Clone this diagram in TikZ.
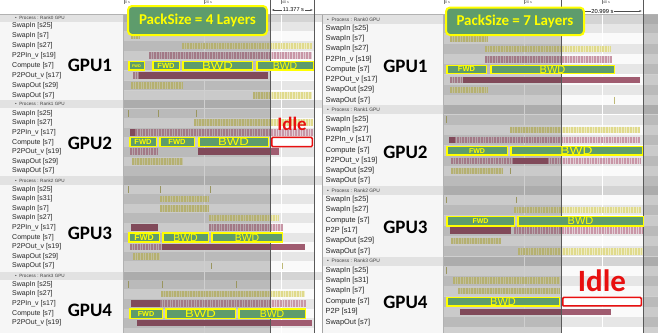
\documentclass[tikz,border=0pt]{standalone}
\usepackage{graphicx}
\usepackage{fontspec}
\setmainfont{Liberation Sans}
\newfontfamily\calibfont{Carlito}
\usepackage{tikz}
\usetikzlibrary{positioning,arrows.meta}
\definecolor{phasegreen}{RGB}{94,156,108}
\definecolor{hiyellow}{RGB}{255,255,0}
\definecolor{idlered}{RGB}{232,16,16}
\definecolor{rowlight}{RGB}{250,250,250}
\definecolor{rowdark}{RGB}{230,230,230}
\definecolor{hdrgray}{RGB}{226,226,226}
\definecolor{hdrtrack}{RGB}{212,212,212}
\definecolor{lblbg}{RGB}{246,246,246}
\definecolor{swapfill}{RGB}{238,236,196}
\definecolor{swapline}{RGB}{224,218,140}
\definecolor{pinkfill}{RGB}{226,206,214}
\definecolor{pinkline}{RGB}{200,150,166}
\definecolor{p2pred}{RGB}{160,92,112}
\newcommand\fsz[1]{\fontsize{#1}{#1}\selectfont}
\tikzset{
  rowlbl/.style={anchor=west, inner sep=0pt, font=\fsz{7}, text=black!85},
  proclbl/.style={anchor=west, inner sep=0pt, font=\fsz{4.6}, text=black!75},
  gpulbl/.style={inner sep=0pt, font=\calibfont\bfseries\fsz{19}},
  phasebox/.style={draw=hiyellow, line width=1.5pt, fill=phasegreen, text=hiyellow, inner sep=0pt},
  idlebox/.style={draw=idlered, line width=1.5pt, fill=white, rounded corners=1pt, inner sep=0pt},
  idlelbl/.style={inner sep=0pt, text=idlered},
  packbox/.style={draw=hiyellow, line width=2pt, fill=phasegreen, rounded corners=4pt,
                  text=hiyellow, font=\calibfont\bfseries\fsz{15}, inner sep=0pt},
  cursor/.style={draw=black!65, line width=0.8pt},
  ticklbl/.style={anchor=west, inner sep=0pt, font=\fsz{3.6}, text=black!70},
  measure/.style={{Latex[length=2.5pt]}-{Latex[length=2.5pt]}, black!70, line width=0.4pt},
  shade/.style={fill=black, opacity=0.19}
}
% trace bars: x1, x2, row y
\newcommand\swapbar[3]{%
  \fill[swapfill] (#1,#3-3.3) rectangle (#2,#3+3.3);
  \pgfmathtruncatemacro\nst{(#2-#1)/1.6}
  \foreach \k in {0,...,\nst} \draw[swapline, line width=0.6pt] ({#1+1.6*\k},#3-3.3) -- ++(0,6.6);}
\newcommand\pinkbar[3]{%
  \fill[pinkfill] (#1,#3-3.3) rectangle (#2,#3+3.3);
  \pgfmathtruncatemacro\nst{(#2-#1)/1.6}
  \foreach \k in {0,...,\nst} \draw[pinkline, line width=0.6pt] ({#1+1.6*\k},#3-3.3) -- ++(0,6.6);}
\newcommand\redbar[3]{\fill[p2pred] (#1,#3-3.3) rectangle (#2,#3+3.3);}
\newcommand\tickbar[2]{\draw[swapline!85!black, line width=0.8pt] (#1,#2-3.3) -- ++(0,6.6);}
% phase box: name, x1, x2, y, height, text
\newcommand\phase[6]{\node[phasebox, minimum width={(#3-#2-1.5)*1pt},
  minimum height={(#5-1.5)*1pt}] (#1) at ({(#2+#3)/2},#4) {#6};}

\begin{document}
\begin{tikzpicture}[x=1pt,y=-1pt]
  \useasboundingbox (0,0) rectangle (658,333);
  \clip (0,0) rectangle (658,333);
  \fill[white] (0,0) rectangle (658,333);
  \fill[lblbg] (0,14) rectangle (123,333);
  \fill[lblbg] (322,14) rectangle (443,333);

  % left panel rows
  \foreach \y/\t [count=\n] in {26/SwapIn [s25], 36/SwapIn [s7], 46/SwapIn [s27],
      55.5/P2PIn\_v [s19], 65.5/Compute [s7], 75.5/P2POut\_v [s17], 85.3/SwapOut [s29],
      95.5/SwapOut [s7], 113.3/SwapIn [s25], 122.7/SwapIn [s27], 132.3/P2PIn\_v [s17],
      142.2/Compute [s7], 151.7/P2POut\_v [s19], 161.3/SwapOut [s29], 171/SwapOut [s7],
      189.3/SwapIn [s25], 199/SwapIn [s31], 208.5/SwapIn [s7], 218/SwapIn [s27],
      227.7/P2PIn\_v [s17], 237.3/Compute [s7], 247/P2POut\_v [s19], 256.5/SwapOut [s29],
      266/SwapOut [s7], 284.5/SwapIn [s25], 294/SwapIn [s27], 303.7/P2PIn\_v [s17],
      313.3/Compute [s7], 323/P2POut\_v [s19]} {
    \ifodd\n\relax \fill[rowdark] (123,\y-4.8) rectangle (314,\y+4.8);
    \else \fill[rowlight] (123,\y-4.8) rectangle (314,\y+4.8); \fi
    \node[rowlbl] (lblL\n) at (12,\y) {\t};
  }
  \fill[rowlight] (123,327.9) rectangle (314,333);
  \foreach \y/\r in {17.7/0, 104/1, 180.6/2, 275.7/3} {
    \fill[hdrgray] (0,\y-4.2) rectangle (322,\y+4.2);
    \fill[hdrtrack] (123,\y-4.2) rectangle (314,\y+4.2);
    \node[proclbl] (procL\r) at (15,\y) {\textbullet\ \ Process : Rank\r\ GPU};
  }

  % right panel rows
  \foreach \y/\t [count=\n] in {28.5/SwapIn [s25], 38.5/SwapIn [s7], 49/SwapIn [s27],
      59.3/P2PIn\_v [s19], 69.3/Compute [s7], 80/P2POut\_v [s17], 90/SwapOut [s29],
      100.2/SwapOut [s7], 119.7/SwapIn [s25], 130/SwapIn [s27], 140/P2PIn\_v [s17],
      150.7/Compute [s7], 161/P2POut\_v [s19], 171/SwapOut [s29], 180.7/SwapOut [s7],
      200/SwapIn [s25], 210/SwapIn [s27], 220.7/Compute [s7], 230.7/P2P [s17],
      241/SwapOut [s29], 251.3/SwapOut [s7], 270.5/SwapIn [s25], 280.7/SwapIn [s31],
      291/SwapIn [s7], 301.7/Compute [s7], 312/P2P [s19], 322.3/SwapOut [s7]} {
    \ifodd\n\relax \fill[rowdark] (443,\y-5.1) rectangle (658,\y+5.1);
    \else \fill[rowlight] (443,\y-5.1) rectangle (658,\y+5.1); \fi
    \node[rowlbl, font=\fsz{7.4}] (lblR\n) at (325.5,\y) {\t};
  }
  \foreach \y/\r in {19.3/0, 109.8/1, 190.5/2, 261/3} {
    \fill[hdrgray] (322,\y-4.5) rectangle (658,\y+4.5);
    \fill[hdrtrack] (443,\y-4.5) rectangle (658,\y+4.5);
    \node[proclbl, font=\fsz{4.9}] (procR\r) at (327,\y) {\textbullet\ \ Process : Rank\r\ GPU};
  }

  % grid lines
  \foreach \x in {204,281,524,602} \draw[white, line width=0.6pt] (\x,14) -- (\x,333);

  % GPU1..4, left
  \swapbar{131}{140}{36} \swapbar{182}{312}{46} \pinkbar{149}{312}{55.5}
  \pinkbar{133}{139}{75.5} \redbar{139}{268}{75.5} \swapbar{131}{183}{85.3} \swapbar{253}{312}{95.5}
  \tickbar{128}{113.3} \tickbar{158}{113.3} \tickbar{196}{113.3} \swapbar{194}{313}{122.7}
  \pinkbar{130}{313}{132.3} \redbar{130}{135}{132.3} \pinkbar{130}{158}{151.7}
  \redbar{198}{279}{151.7} \swapbar{132}{183}{161.3}
  \tickbar{128}{189.3} \tickbar{160}{189.3} \tickbar{210}{189.3} \swapbar{160}{209}{199}
  \swapbar{160}{209}{208.5} \swapbar{209}{279}{218} \redbar{131}{158}{227.7} \pinkbar{209}{283}{227.7}
  \pinkbar{130}{162}{247} \redbar{162}{305}{247} \swapbar{133}{160}{256.5}
  \tickbar{211}{266} \tickbar{282}{266}
  \tickbar{128}{284.5} \tickbar{162}{284.5} \tickbar{236}{284.5} \swapbar{161}{305}{294}
  \redbar{131}{160}{303.7} \pinkbar{160}{306}{303.7} \redbar{137}{312}{323}

  % GPU1..4, right
  \swapbar{450}{487}{38.5} \swapbar{485}{611}{49} \pinkbar{485}{612}{59.3}
  \pinkbar{450}{463}{80} \redbar{463}{640}{80} \swapbar{450}{487}{90} \tickbar{614}{100.2}
  \tickbar{446}{119.7} \swapbar{510}{640}{130} \pinkbar{449}{640}{140} \redbar{449}{455}{140}
  \pinkbar{451}{640}{161} \redbar{513}{548}{161} \swapbar{451}{503}{171} \tickbar{510}{171}
  \tickbar{446}{200} \tickbar{516}{200} \swapbar{514}{641}{210}
  \redbar{450}{511}{230.7} \pinkbar{514}{643}{230.7} \swapbar{451}{501}{241} \swapbar{518}{644}{251.3}
  \tickbar{446}{270.5} \swapbar{453}{560}{280.7} \swapbar{458}{560}{291} \redbar{460}{611}{312}

  % selection shading and cursors
  \fill[shade] (123,14) rectangle (270,333);
  \fill[shade] (443,14) rectangle (561,333);
  \fill[shade] (643,14) rectangle (658,333);
  \draw[black!30] (123,14) -- (123,333) (443,14) -- (443,333);
  \draw[black!35] (322,0) -- (322,333);

  % time ruler
  \fill[white] (0,0) rectangle (658,14);
  \draw[black!30] (0,14) -- (658,14);
  \foreach \x/\s [count=\n] in {124/0 s, 204/20 s, 281/40 s, 444/0 s, 524/20 s, 602/40 s} {
    \draw[black!50] (\x,0) -- (\x,4);
    \node[ticklbl] (tick\n) at (\x+1,2) {\s};
  }
  \foreach \x in {270,314.3,561,643} \draw[cursor] (\x,0) -- (\x,333);
  \coordinate (mL1) at (271.5,10); \coordinate (mL2) at (313,10);
  \draw[measure] (mL1) -- (mL2);
  \node[fill=white, inner sep=0.6pt, font=\fsz{5.6}] (measL) at (293.5,10) {11.377 s};
  \coordinate (mR1) at (562,11); \coordinate (mR2) at (642,11);
  \draw[measure] (mR1) -- (mR2);
  \node[fill=white, inner sep=0.6pt, font=\fsz{5.8}] (measR) at (602.5,11) {20.999 s};

  % phase boxes, left
  \phase{fL1a}{128}{145}{65.7}{10}{\bfseries\fsz{3.8}FWD}
  \phase{fL1b}{152}{180}{65.7}{10}{\bfseries\fsz{7.5}FWD}
  \phase{bL1a}{182}{253}{65.7}{10}{\fsz{10.5}\scalebox{1.25}[1]{BWD}}
  \phase{bL1b}{256}{314}{65.7}{10}{\fsz{10.5}BWD}
  \phase{fL2a}{129}{157}{142}{10.6}{\bfseries\fsz{7.5}FWD}
  \phase{fL2b}{159}{195}{142}{10.6}{\bfseries\fsz{7.5}FWD}
  \phase{bL2a}{198}{269}{142}{10.6}{\fsz{10.5}\scalebox{1.25}[1]{BWD}}
  \node[idlebox, minimum width=40.5pt, minimum height=9.1pt] (idleL) at (292,142) {};
  \node[idlelbl, font=\calibfont\bfseries\fsz{19}, above=5.8pt of idleL] (idleLtxt) {Idle};
  \phase{fL3a}{128}{160}{237.5}{10.4}{\bfseries\fsz{8.5}FWD}
  \phase{bL3a}{162}{209}{237.5}{10.4}{\fsz{10.5}BWD}
  \phase{bL3b}{211}{283}{237.5}{10.4}{\fsz{10.5}BWD}
  \phase{fL4a}{129}{163}{313.7}{10.7}{\bfseries\fsz{7.2}FWD}
  \phase{bL4a}{165}{236}{313.7}{10.7}{\fsz{10.5}\scalebox{1.25}[1]{BWD}}
  \phase{bL4b}{238}{306}{313.7}{10.7}{\fsz{10.5}BWD}

  % phase boxes, right
  \phase{fR1a}{446}{487}{69.3}{9.5}{\bfseries\fsz{7.5}FWD}
  \phase{bR1a}{490}{615}{69.3}{9.5}{\fsz{11}BWD}
  \phase{fR2a}{446}{508}{150.7}{10}{\bfseries\fsz{7}FWD}
  \phase{bR2a}{510}{643}{150.7}{10}{\fsz{11}\scalebox{1.25}[1]{BWD}}
  \phase{fR3a}{446}{515}{221.2}{11}{\bfseries\fsz{7}FWD}
  \phase{bR3a}{517}{644}{221.2}{11}{\fsz{11}BWD}
  \phase{bR4a}{446}{560}{301.7}{10}{\fsz{11}BWD}
  \node[idlebox, minimum width=78.5pt, minimum height=8.5pt] (idleR) at (602,301.7) {};
  \node[idlelbl, font=\calibfont\bfseries\fsz{31}, above=4.6pt of idleR] (idleRtxt) {Idle};

  % GPU names
  \foreach \y [count=\n] in {65,143,233.7,310.5} \node[gpulbl] (gpuL\n) at (90,\y) {GPU\n};
  \foreach \y [count=\n] in {66,152.5,227.5,302.5} \node[gpulbl] (gpuR\n) at (405.5,\y) {GPU\n};

  % pack size banners
  \node[packbox, minimum width=139pt, minimum height=29pt] (packL) at (197.5,20.5) {PackSize = 4 Layers};
  \node[packbox, minimum width=138pt, minimum height=27.5pt] (packR) at (515,21.3) {PackSize = 7 Layers};
\end{tikzpicture}
\end{document}
